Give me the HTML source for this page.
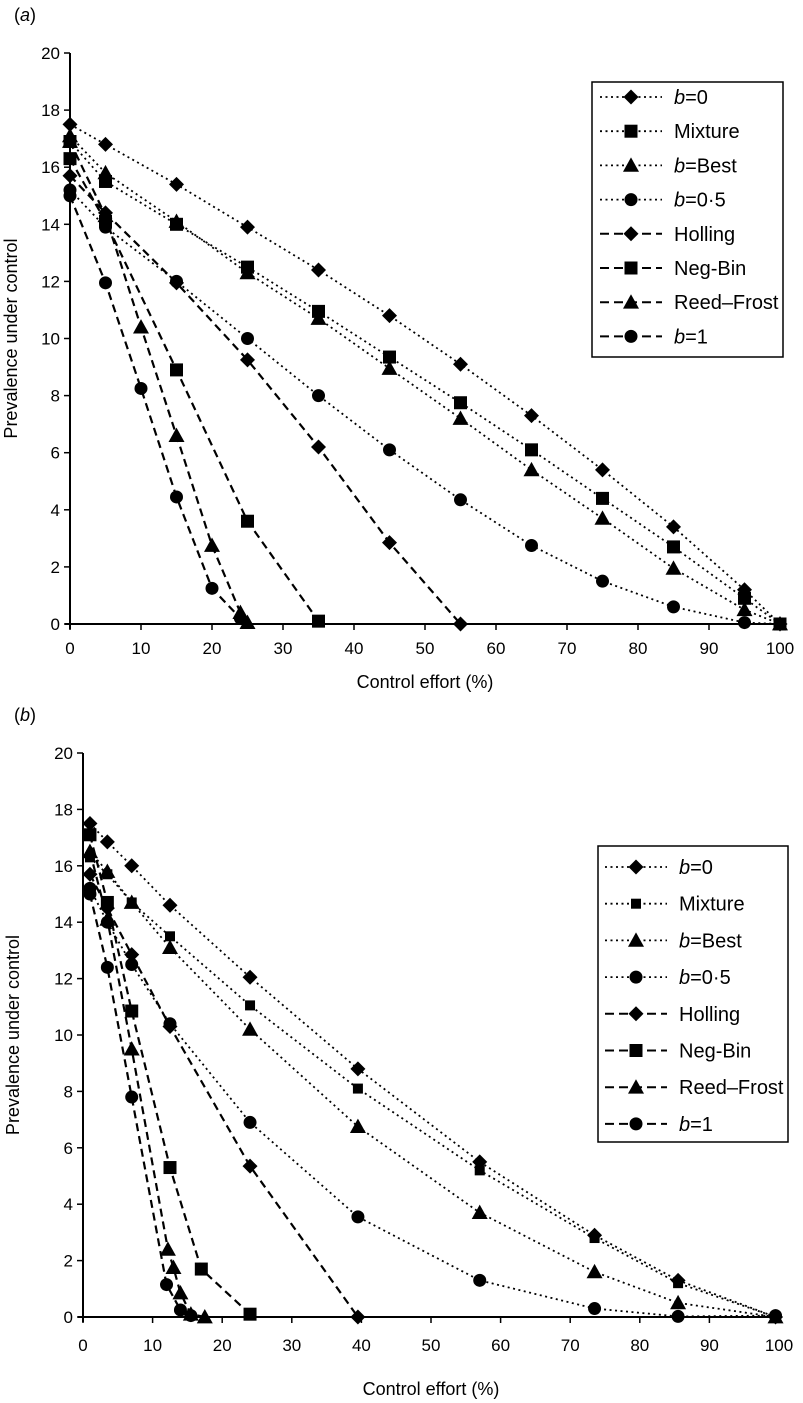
<!DOCTYPE html>
<html><head><meta charset="utf-8">
<style>
html,body{margin:0;padding:0;background:#fff;}
svg{display:block;font-family:"Liberation Sans",Arial,sans-serif;}
</style></head>
<body>
<svg id="chart" width="803" height="1403" viewBox="0 0 803 1403" xmlns="http://www.w3.org/2000/svg"></svg>
<script>
// ---------- Panel (a) data ----------
const xTicks = [0,10,20,30,40,50,60,70,80,90,100];
const yTicks = [0,2,4,6,8,10,12,14,16,18,20];
const seriesNames = ["b = 0","Mixture","b = Best","b = 0·5","Holling","Neg-Bin","Reed–Frost","b = 1"];

const aX_dot = [0,5,15,25,35,45,55,65,75,85,95,100];
const aB0 = [17.5,16.8,15.4,13.9,12.4,10.8,9.1,7.3,5.4,3.4,1.2,0];
const aMix = [16.9,15.5,14.0,12.5,10.95,9.35,7.75,6.1,4.4,2.7,0.9,0];
const aBest = [17.1,15.8,14.1,12.3,10.7,8.95,7.2,5.4,3.7,1.95,0.5,0];
const aB05 = [15.2,13.9,12.0,10.0,8.0,6.1,4.35,2.75,1.5,0.6,0.05,0];
const aX_hol = [0,5,15,25,35,45,55];
const aHol = [15.7,14.4,11.95,9.25,6.2,2.85,0];
const aX_nb = [0,5,15,25,35];
const aNb = [16.3,14.1,8.9,3.6,0.1];
const aX_rf = [0,5,10,15,20,24,25];
const aRf = [16.9,14.3,10.4,6.6,2.75,0.4,0.05];
const aX_b1 = [0,5,10,15,20,24];
const aB1 = [15.0,11.95,8.25,4.45,1.25,0.2];

// ---------- Panel (b) data ----------
const bX_dot = [1,3.5,7,12.5,24,39.5,57,73.5,85.5,99.5];
const bB0 = [17.5,16.85,16.0,14.6,12.05,8.8,5.5,2.9,1.3,0];
const bMix = [16.3,15.7,14.7,13.5,11.05,8.1,5.2,2.8,1.2,0];
const bBest = [16.5,15.8,14.7,13.1,10.2,6.75,3.7,1.6,0.5,0];
const bB05 = [15.2,14.0,12.5,10.4,6.9,3.55,1.3,0.3,0.02,0.05];
const bX_hol = [1,3.5,7,12.5,24,39.5];
const bHol = [15.7,14.5,12.85,10.3,5.35,0];
const bX_nb = [1,3.5,7,12.5,17,24];
const bNb = [17.1,14.7,10.85,5.3,1.7,0.1];
const bX_rf = [1,3.5,7,12.2,13,14,15.5,17.5];
const bRf = [16.5,14.1,9.5,2.4,1.75,0.85,0.1,0];
const bX_b1 = [1,3.5,7,12,14,15.5];
const bB1 = [15.0,12.4,7.8,1.15,0.25,0.05];

const NS = "http://www.w3.org/2000/svg";
const svg = document.getElementById("chart");
function mk(tag, attrs, parent){
  const e = document.createElementNS(NS, tag);
  for (const k in attrs) e.setAttribute(k, attrs[k]);
  (parent||svg).appendChild(e);
  return e;
}
const DOT = "2,3.5", DASH = "8,5";

function marker(g, kind, cx, cy, small){
  let e;
  if (kind==="diamond"){
    const r = small?6:7.5;
    e = mk("polygon",{points:`${cx},${cy-r} ${cx+r},${cy} ${cx},${cy+r} ${cx-r},${cy}`,fill:"#000"},g);
  } else if (kind==="square"){
    const r = small?5:6.5;
    e = mk("rect",{x:cx-r,y:cy-r,width:2*r,height:2*r,fill:"#000"},g);
  } else if (kind==="triangle"){
    const r = 8;
    e = mk("polygon",{points:`${cx},${cy-r} ${cx+r},${cy+r*0.8} ${cx-r},${cy+r*0.8}`,fill:"#000"},g);
  } else {
    e = mk("circle",{cx:cx,cy:cy,r:6.5,fill:"#000"},g);
  }
  
  
}

function panel(cfg){
  const {x0,x1,y0,y1,label,labelY,tickLabelY,titleY,yTitleX,legend} = cfg;
  const sx = v => x0 + (x1-x0)*v/100;
  const sy = v => y0 - (y0-y1)*v/20;
  const g = mk("g",{});
  
  
  const pl = mk("text",{x:14,y:labelY,"font-size":"18"},g);
  pl.innerHTML = '(<tspan font-style="italic">'+label+'</tspan>)';
  
  
  const ya = mk("line",{x1:x0,y1:y1,x2:x0,y2:y0+5,stroke:"#000","stroke-width":2},g);
  
  
  const xa = mk("line",{x1:x0-5,y1:y0,x2:x1,y2:y0,stroke:"#000","stroke-width":2},g);
  
  
  yTicks.forEach(t=>{
    mk("line",{x1:x0-6,y1:sy(t),x2:x0,y2:sy(t),stroke:"#000","stroke-width":1.5},g);
    const tx = mk("text",{x:x0-10,y:sy(t)+6,"font-size":"17","text-anchor":"end"},g);
    tx.textContent = t;
    
    
  });
  xTicks.forEach(t=>{
    mk("line",{x1:sx(t),y1:y0,x2:sx(t),y2:y0+6,stroke:"#000","stroke-width":1.5},g);
    const tx = mk("text",{x:sx(t),y:tickLabelY,"font-size":"17","text-anchor":"middle"},g);
    tx.textContent = t;
    
    
  });
  const xt = mk("text",{x:(x0+x1)/2,y:titleY,"font-size":"18","text-anchor":"middle"},g);
  xt.textContent = "Control effort (%)";
  
  
  const ymid = (y0+y1)/2;
  const yt = mk("text",{x:yTitleX,y:ymid,"font-size":"18","text-anchor":"middle",transform:`rotate(-90 ${yTitleX} ${ymid})`},g);
  yt.textContent = "Prevalence under control";
  
  

  cfg.series.forEach(s=>{
    const sg = mk("g",{},g);
    
    
    const pts = s.x.map((xv,i)=>sx(xv)+","+sy(s.y[i])).join(" ");
    mk("polyline",{points:pts,fill:"none",stroke:"#000","stroke-width":s.dash?2.2:1.8,"stroke-dasharray":s.dash?DASH:DOT},sg);
    s.x.forEach((xv,i)=>marker(sg,s.m,sx(xv),sy(s.y[i]),s.small));
  });

  const L = legend;
  const lg = mk("g",{},g);
  
  
  mk("rect",{x:L.x,y:L.y,width:L.w,height:L.h,fill:"#fff",stroke:"#000","stroke-width":1.5},lg);
  cfg.series.forEach((s,i)=>{
    const cy = L.r0 + i*L.dy;
    const eg = mk("g",{},lg);
    
    
    mk("line",{x1:L.lx,y1:cy,x2:L.lx+62,y2:cy,stroke:"#000","stroke-width":s.dash?2:1.8,"stroke-dasharray":s.dash?"9,5":"2,3.5"},eg);
    marker(eg,s.m,L.lx+31,cy,s.small);
    const t = mk("text",{x:L.lx+74,y:cy+7,"font-size":"20"},eg);
    const nm = seriesNames[i];
    if (nm.startsWith("b = ")) t.innerHTML = '<tspan font-style="italic">b</tspan>='+nm.slice(4);
    else t.textContent = nm;
  });
}

panel({name:"panel-a",x0:70,x1:780,y0:624,y1:53,label:"a",labelY:21,tickLabelY:654,titleY:688,yTitleX:17,
  legend:{x:592,y:82,w:191,h:275,r0:97,dy:34.2,lx:600},
  series:[
    {id:"b0",x:aX_dot,y:aB0,m:"diamond",dash:false},
    {id:"mixture",x:aX_dot,y:aMix,m:"square",dash:false},
    {id:"b-best",x:aX_dot,y:aBest,m:"triangle",dash:false},
    {id:"b05",x:aX_dot,y:aB05,m:"circle",dash:false},
    {id:"holling",x:aX_hol,y:aHol,m:"diamond",dash:true},
    {id:"neg-bin",x:aX_nb,y:aNb,m:"square",dash:true},
    {id:"reed-frost",x:aX_rf,y:aRf,m:"triangle",dash:true},
    {id:"b1",x:aX_b1,y:aB1,m:"circle",dash:true}
  ]});

panel({name:"panel-b",x0:83,x1:779,y0:1317,y1:753,label:"b",labelY:721,tickLabelY:1351,titleY:1395,yTitleX:19,
  legend:{x:598,y:846,w:190,h:296,r0:867,dy:36.7,lx:605},
  series:[
    {id:"b0",x:bX_dot,y:bB0,m:"diamond",dash:false},
    {id:"mixture",x:bX_dot,y:bMix,m:"square",dash:false,small:true},
    {id:"b-best",x:bX_dot,y:bBest,m:"triangle",dash:false},
    {id:"b05",x:bX_dot,y:bB05,m:"circle",dash:false},
    {id:"holling",x:bX_hol,y:bHol,m:"diamond",dash:true},
    {id:"neg-bin",x:bX_nb,y:bNb,m:"square",dash:true},
    {id:"reed-frost",x:bX_rf,y:bRf,m:"triangle",dash:true},
    {id:"b1",x:bX_b1,y:bB1,m:"circle",dash:true}
  ]});
</script>
</body></html>
